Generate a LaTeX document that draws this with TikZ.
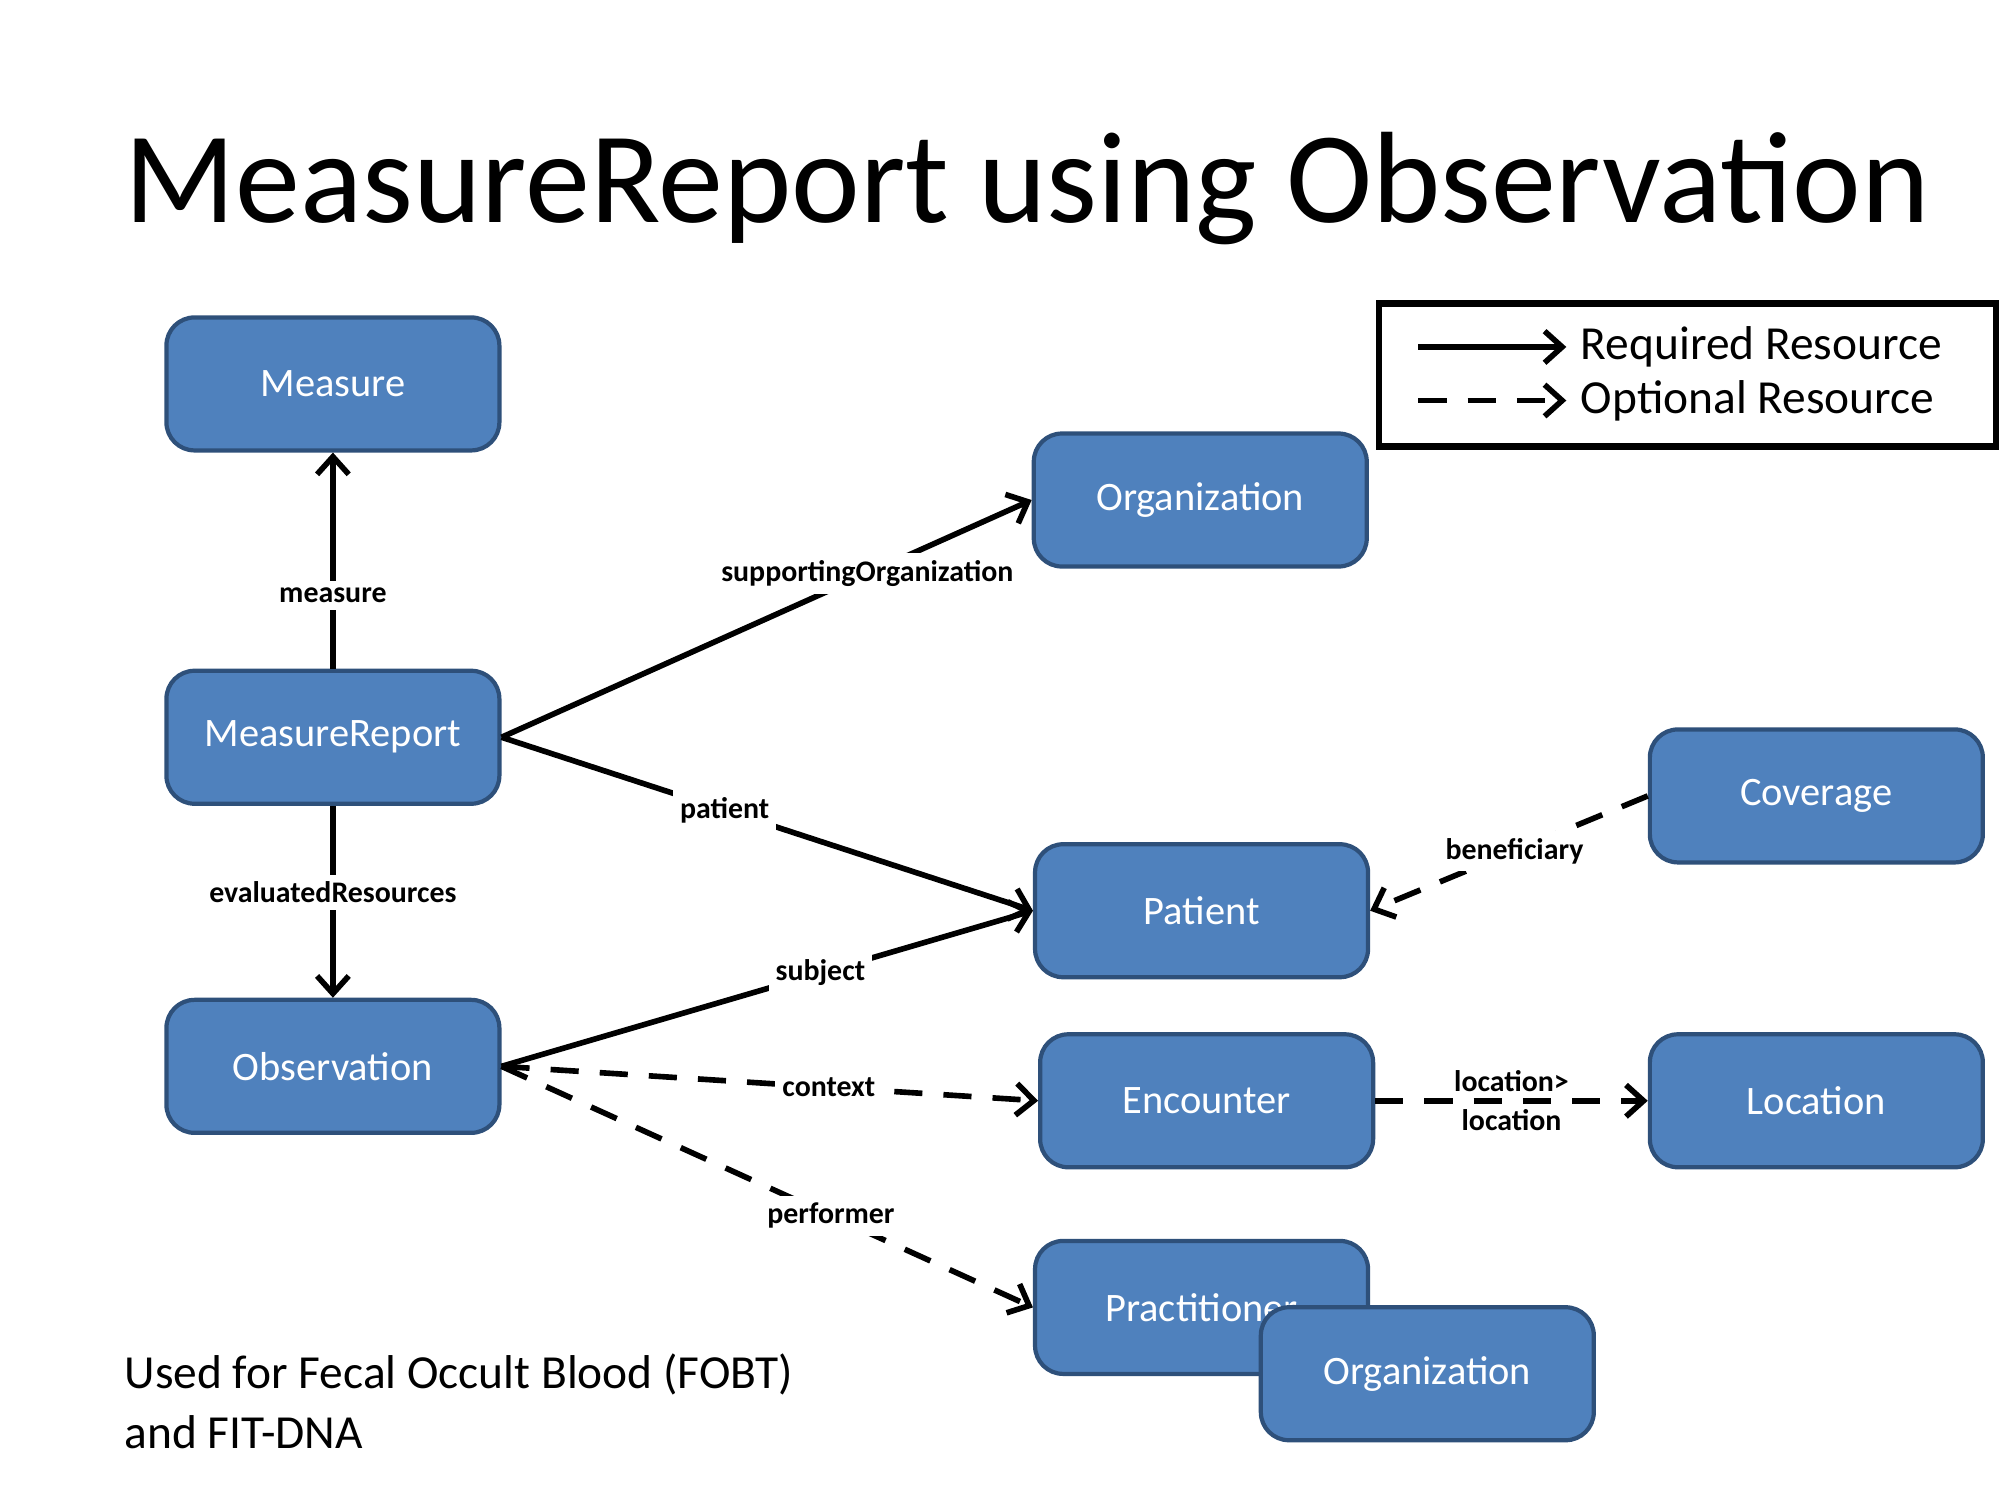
\documentclass[tikz,border=0pt]{standalone}
\usepackage{fontspec}
\setmainfont{Carlito}
\usetikzlibrary{arrows.meta}
\definecolor{boxfill}{RGB}{79,129,189}
\definecolor{boxline}{RGB}{46,80,122}
\tikzset{
  res/.style={draw=boxline, line width=1.2pt, fill=boxfill, rounded corners=8pt,
    minimum width=3.33cm, minimum height=1.33cm, text=white, font=\fontsize{11.5}{13}\selectfont},
  lbl/.style={fill=white, inner sep=2pt, font=\bfseries\fontsize{8.5}{10}\selectfont},
  req/.style={->, line width=1.6pt},
  opt/.style={->, line width=1.6pt, dash pattern=on 8pt off 6pt}
}
\begin{document}
\begin{tikzpicture}[x=0.012755cm, y=-0.012755cm, >={Straight Barb[length=5pt,width=9pt]}]
    \useasboundingbox (0,0) rectangle (1568,1176);
    % Title
    \node (title) [anchor=west, font=\fontsize{37}{40}\selectfont] at (88,148) {MeasureReport using Observation};

    % Resources
    \node (measure) [res] at (261,301) {Measure};
    \node (report) [res] at (261,578) {MeasureReport};
    \node (obs) [res] at (261,836) {Observation};
    \node (org) [res] at (941,392) {Organization};
    \node (patient) [res] at (942,714) {Patient};
    \node (coverage) [res] at (1424,624) {Coverage};
    \node (encounter) [res] at (946,863) {Encounter};
    \node (location) [res] at (1424,863) {Location};
    \node (pract) [res] at (942,1025) {Practitioner};
    \node (org2) [res] at (1119,1077) {Organization};

    % Required references
    \draw[req] (report.north) -- node[lbl, pos=0.34] {measure} (measure.south);
    \draw[req] (report.south) -- node[lbl, pos=0.45] {evaluatedResources} (obs.north);
    \draw[req] (report.east) -- node[lbl, pos=0.69] {supportingOrganization} (org.west);
    \draw[req] (report.east) -- node[lbl, pos=0.42] {patient} (patient.west);
    \draw[req] (obs.east) -- node[lbl, pos=0.6] {subject} (patient.west);

    % Optional references
    \draw[opt] (obs.east) -- node[lbl, pos=0.61] {context} (encounter.west);
    \draw[opt] (obs.east) -- node[lbl, pos=0.62] {performer} (pract.west);
    \draw[opt] (coverage.west) -- node[lbl, pos=0.48] {beneficiary} (patient.east);
    \draw[opt] (encounter.east) -- node[align=center, inner sep=0pt, font=\bfseries\fontsize{8.5}{11}\selectfont] {location>\\location} (location.west);

    % Legend
    \node (legend) [draw, line width=1.8pt, minimum width=6.17cm, minimum height=1.43cm] at (1323,294) {};
    \coordinate (ra) at (1112,272);
    \coordinate (rb) at (1228,272);
    \coordinate (oa) at (1112,314);
    \coordinate (ob) at (1228,314);
    \draw[req] (ra) -- (rb) node (reqtxt) [right, font=\fontsize{13.5}{15}\selectfont] {Required Resource};
    \draw[opt] (oa) -- (ob) node (opttxt) [right, font=\fontsize{13.5}{15}\selectfont] {Optional Resource};

    % Note
    \node (note) [anchor=north west, align=left, font=\fontsize{13.5}{17}\selectfont] at (88,1052) {Used for Fecal Occult Blood (FOBT)\\and FIT-DNA};
\end{tikzpicture}
\end{document}
